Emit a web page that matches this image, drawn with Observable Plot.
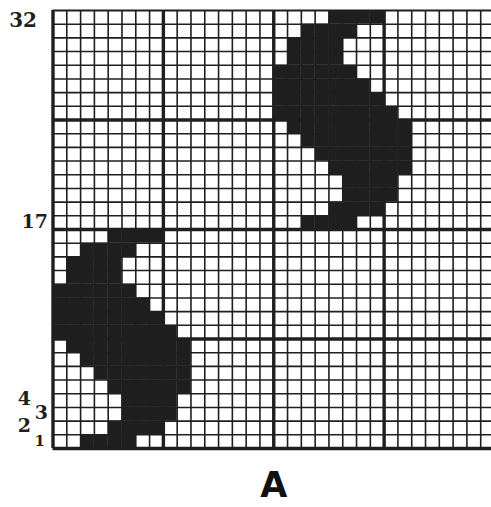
<!DOCTYPE html>
<html>
<head>
<meta charset="utf-8">
<script src="https://cdn.jsdelivr.net/npm/d3@7"></script>
<script src="https://cdn.jsdelivr.net/npm/@observablehq/plot@0.6"></script>
<style>
  html, body { margin: 0; padding: 0; background: #fff; overflow: hidden; }
  svg { display: block; }
</style>
</head>
<body>
<div id="chart"></div>
<script>
// Grid size (columns x rows of the point-paper)
const gridCols = 32;
const gridRows = 32;
const blockSize = 8;

// Motif: filled column runs [start, end] for rows 1..16 (bottom to top)
const motifRuns = [
  [3, 6],   // row 1
  [5, 8],   // row 2
  [6, 9],   // row 3
  [6, 9],   // row 4
  [5, 10],  // row 5
  [4, 10],  // row 6
  [3, 10],  // row 7
  [2, 10],  // row 8
  [1, 9],   // row 9
  [1, 8],   // row 10
  [1, 7],   // row 11
  [1, 6],   // row 12
  [2, 5],   // row 13
  [2, 5],   // row 14
  [3, 6],   // row 15
  [5, 8]    // row 16
];
// The motif repeats, shifted by these (column, row) amounts
const motifShiftCols = [0, 16];
const motifShiftRows = [0, 16];

// Row labels on the left
const rowLabelText = ["1", "2", "3", "4", "17", "32"];
const rowLabelRow  = [1, 2, 3, 4, 17, 32];
const figureLabel = "A";

const cells = motifShiftCols.flatMap((dc, k) =>
  motifRuns.flatMap(([a, b], i) =>
    d3.range(a, b + 1).map(c => ({col: c + dc, row: i + 1 + motifShiftRows[k]}))
  )
);
const labels = rowLabelText.map((t, i) => ({text: t, row: rowLabelRow[i]}));
const outer = labels.filter(d => ["2", "4"].includes(d.text));
const top32 = labels.filter(d => d.text === "32");
const inner = labels.filter(d => ["3", "17"].includes(d.text));
const one = labels.filter(d => d.text === "1");

const lines = d3.range(0, gridCols + 1);
const thin = lines.filter(v => v % blockSize !== 0);
const heavy = lines.filter(v => v % blockSize === 0);
const ink = "#1f1f1f";
const labelFont = {fontFamily: "DejaVu Serif", fontWeight: "bold", fill: ink, textAnchor: "end"};

const chart = Plot.plot({
  width: 491,
  height: 507,
  marginLeft: 52,
  marginRight: 0,
  marginTop: 10,
  marginBottom: 59,
  x: {domain: [0, gridCols], range: [52.5, 494], axis: null},
  y: {domain: [0, gridRows], range: [448, 10], axis: null},
  style: {background: "#fff", overflow: "hidden"},
  marks: [
    Plot.rect(cells, {x1: d => d.col - 1, x2: d => d.col, y1: d => d.row - 1, y2: d => d.row, fill: ink}),
    Plot.ruleX(thin, {x: d => d, y1: 0, y2: gridRows, stroke: ink, strokeWidth: 1.6}),
    Plot.ruleY(thin, {y: d => d, x1: 0, x2: gridCols, stroke: ink, strokeWidth: 1.6}),
    Plot.ruleX(heavy, {x: d => d, y1: 0, y2: gridRows, stroke: ink, strokeWidth: 3.4}),
    Plot.ruleY(heavy.filter(v => v !== gridRows), {y: d => d, x1: 0, x2: gridCols, stroke: ink, strokeWidth: 3.4}),
    Plot.ruleY([gridRows], {y: d => d, x1: 0, x2: gridCols, stroke: ink, strokeWidth: 2.2}),
    Plot.text(outer, {x: 0, y: d => d.row - 0.5, text: "text", dx: -22, dy: -2, fontSize: 19, ...labelFont}),
    Plot.text(top32, {x: 0, y: d => d.row - 0.5, text: "text", dx: -16, dy: 3, fontSize: 20, ...labelFont}),
    Plot.text(inner, {x: 0, y: d => d.row - 0.5, text: "text", dx: -5, dy: -1, fontSize: 19, ...labelFont}),
    Plot.text(one, {x: 0, y: d => d.row - 0.5, text: "text", dx: -8, dy: 0, fontSize: 15, ...labelFont}),
    Plot.text([figureLabel], {x: gridCols / 2, frameAnchor: "bottom", text: d => d, dy: 48,
      fontFamily: "DejaVu Sans", fontWeight: "bold", fontSize: 35, fill: "#111"})
  ]
});
document.getElementById("chart").appendChild(chart);
</script>
</body>
</html>
